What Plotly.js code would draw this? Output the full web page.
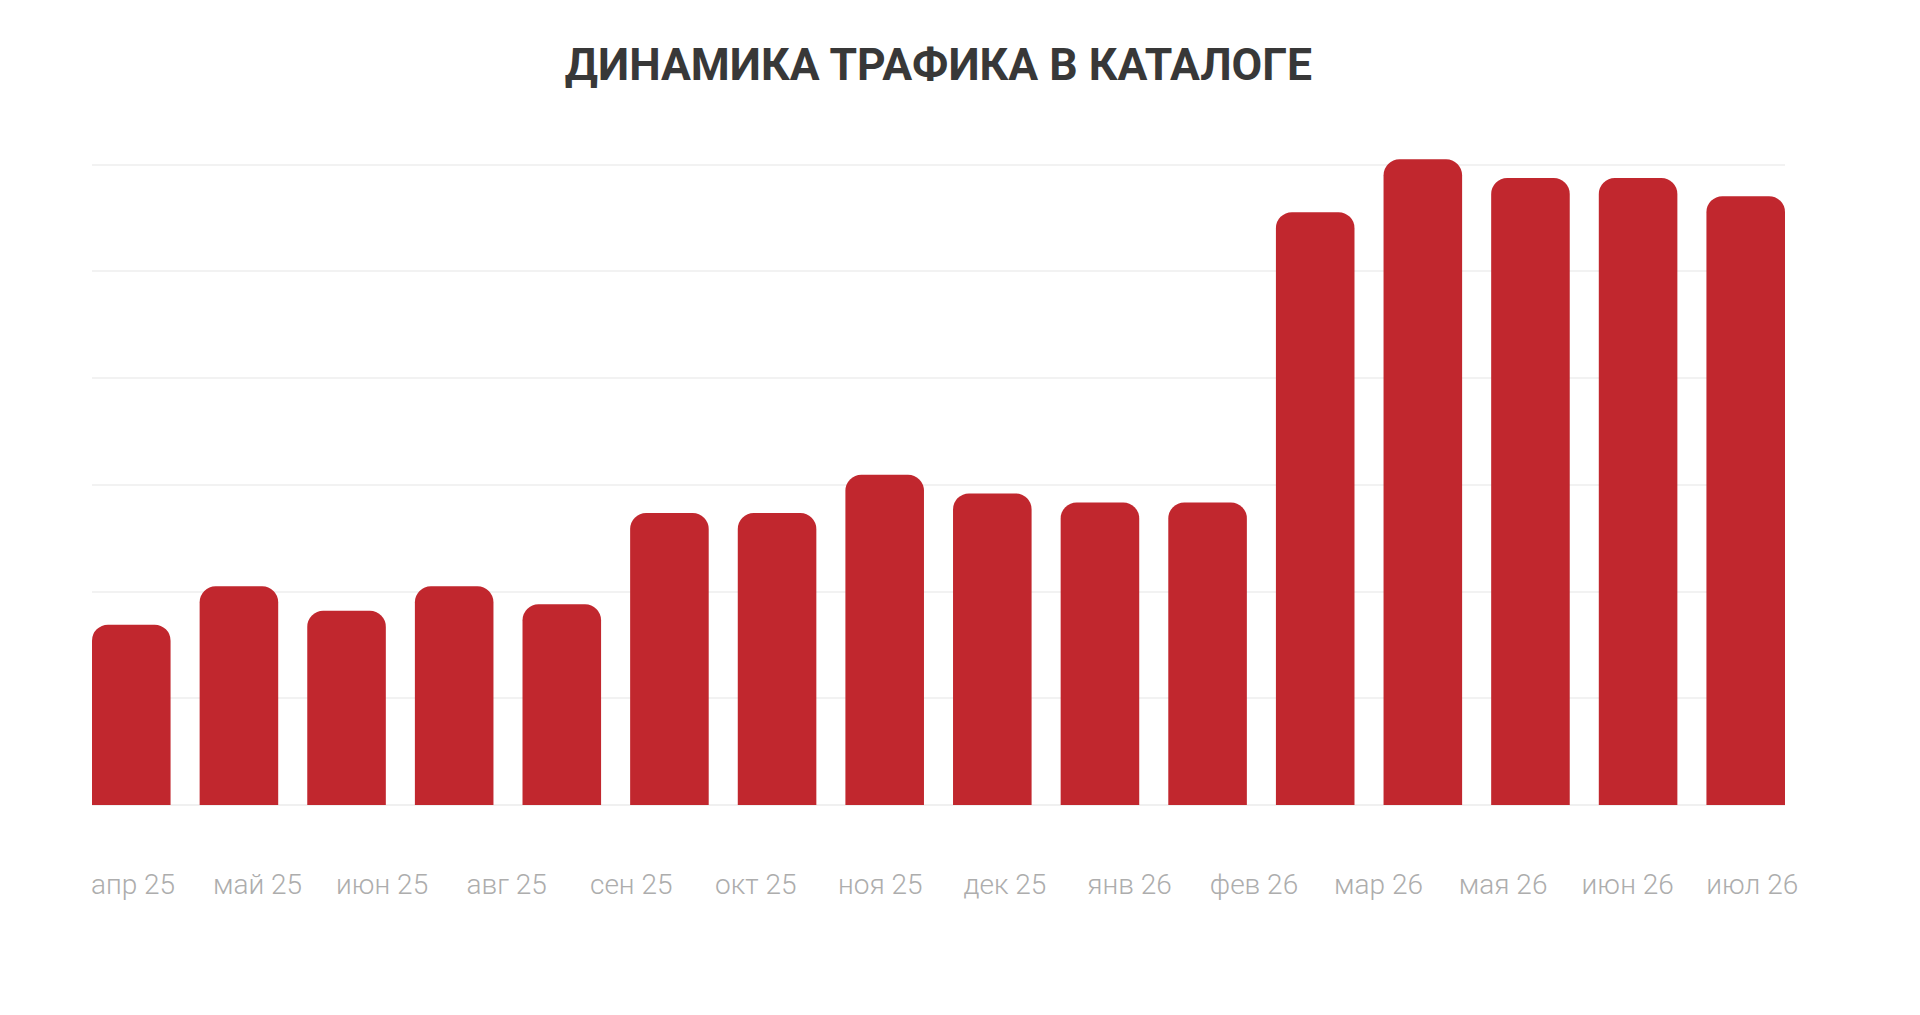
<!DOCTYPE html>
<html>
<head>
<meta charset="utf-8">
<script src="https://cdn.plot.ly/plotly-3.0.1.min.js"></script>
<style>
  html, body { margin: 0; padding: 0; background: #fff; }
  #trafficPlot { width: 1920px; height: 1015px; }
</style>
</head>
<body>
<div id="trafficPlot"></div>
<script>
// values (no scale shown, one grid step = 20)
let traffic = [33.8, 41.0, 36.4, 41.0, 37.6, 54.7, 54.7, 61.9, 58.4, 56.7, 56.7, 111.1, 121.0, 117.5, 117.5, 114.1];
// the month labels under the bars (14 of them, spread evenly)
let month_labels = ['апр 25', 'май 25', 'июн 25', 'авг 25', 'сен 25', 'окт 25', 'ноя 25',
  'дек 25', 'янв 26', 'фев 26', 'мар 26', 'мая 26', 'июн 26', 'июл 26'];

function drawChart() {
  let bar_x = [];
  for (let i = 0; i < traffic.length; i++) {
    bar_x.push(i);
  }
  let label_x = [];
  for (let i = 0; i < month_labels.length; i++) {
    label_x.push(i);
  }

  let bars = {
    x: bar_x,
    y: traffic,
    type: 'bar',
    marker: { color: '#c1272e', cornerradius: 16 },
    hoverinfo: 'y',
    xaxis: 'x',
    yaxis: 'y'
  };
  // invisible trace so the label axis gets drawn
  let labels = {
    x: label_x,
    y: label_x.map(() => 0),
    type: 'scatter',
    mode: 'none',
    hoverinfo: 'skip',
    showlegend: false,
    xaxis: 'x2',
    yaxis: 'y'
  };

  let layout = {
    width: 1920,
    height: 1015,
    paper_bgcolor: '#ffffff',
    plot_bgcolor: '#ffffff',
    showlegend: false,
    bargap: 0.27,
    margin: { l: 92, r: 135, t: 138, b: 210 },
    title: {
      text: 'ДИНАМИКА ТРАФИКА В КАТАЛОГЕ',
      font: { family: 'Roboto, sans-serif', size: 44.5, color: '#383838', weight: 700 },
      xref: 'paper',
      x: 0.5,
      xanchor: 'center',
      yref: 'container',
      y: 1 - 64 / 1015,
      yanchor: 'middle'
    },
    xaxis: {
      range: [-0.365, traffic.length - 1 + 0.365],
      showticklabels: false,
      showgrid: false,
      zeroline: false,
      showline: false,
      ticks: ''
    },
    xaxis2: {
      overlaying: 'x',
      anchor: 'y',
      side: 'bottom',
      range: [-0.329, 13.263],
      tickmode: 'array',
      tickvals: label_x,
      ticktext: month_labels,
      ticks: '',
      ticklabelstandoff: 60,
      showgrid: false,
      zeroline: false,
      showline: false,
      tickfont: { family: 'Roboto, sans-serif', size: 28, color: '#adadad', weight: 300 }
    },
    yaxis: {
      range: [0, 125],
      dtick: 20,
      showticklabels: false,
      showgrid: true,
      gridcolor: '#f2f2f2',
      gridwidth: 2,
      zeroline: true,
      zerolinecolor: '#f0f0f0',
      zerolinewidth: 2,
      ticks: ''
    }
  };

  Plotly.newPlot('trafficPlot', [bars, labels], layout, { displayModeBar: false, staticPlot: true });
}

drawChart();
</script>
</body>
</html>
